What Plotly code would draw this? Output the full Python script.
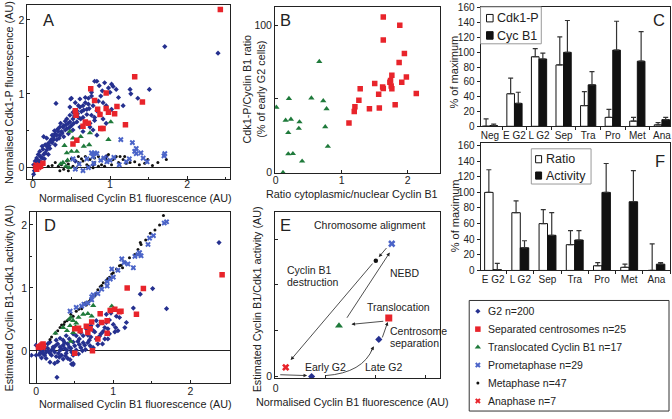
import plotly.graph_objects as go

W, H = 672, 419
def fx(p): return p / W
def fy(p): return 1 - p / H

FONT = "Liberation Sans, Arial, sans-serif"

# ---------------- DATA ----------------
# Panel A: Normalised Cyclin B1 (x) vs Normalised Cdk1-P (y)
a_g2 = [(0.80,1.17),(0.93,1.15),(1.04,1.10),(1.08,1.06),(0.98,1.08),(0.86,1.11),(1.00,1.02),(0.90,1.04),
        (0.76,0.97),(0.72,0.94),(0.68,0.88),(0.61,0.82),(0.50,0.94),(0.30,0.87),(0.76,1.02),(1.11,0.95),
        (1.17,0.84),(0.78,0.84),(0.70,0.79),(0.63,0.76),(0.57,0.77),(0.65,0.68),(0.59,0.68),(0.52,0.66),
        (0.48,0.71),(0.44,0.66),(0.46,0.60),(0.40,0.57),(0.35,0.55),(0.42,0.51),(0.33,0.49),(0.29,0.46),
        (0.25,0.44),(0.35,0.44),(0.18,0.40),(0.27,0.38),(0.14,0.42),(0.20,0.33),(0.16,0.31),(0.12,0.29),
        (0.22,0.26),(0.09,0.22),(0.16,0.20),(0.07,0.18),(0.05,0.13),(0.03,0.09),(0.09,0.09),(0.01,0.04),
        (0.02,-0.04),(0.48,0.82),(0.55,0.88),(0.61,0.93),(0.68,0.95),(0.72,0.86),(0.83,0.77),(0.87,0.73),
        (0.91,0.66),(0.80,0.64),(0.74,0.60),(0.61,0.55),(0.52,0.51),(0.46,0.46),(0.40,0.42),(0.31,0.38),
        (0.25,0.34),(0.29,0.31),(0.18,0.24),(0.14,0.18),(0.20,0.18),(0.12,0.13),(0.07,0.07),(0.57,0.62),
        (0.50,0.57),(0.44,0.53),(0.37,0.49),(0.31,0.44),(0.52,0.75),(0.59,0.84),(0.65,0.84),(0.95,0.84),
        (1.02,0.79),(0.91,0.88),(0.74,0.55),(0.78,0.51),(0.83,0.44),(0.65,0.49),(0.95,0.60),(0.76,0.71),
        (0.80,0.68),(0.55,0.09),(0.78,0.04),(0.95,0.15),(0.01,-0.09),(1.71,1.64),(2.40,1.55),(1.51,1.06),
        (1.36,0.94),(1.26,1.06),(1.27,1.00),(1.02,1.13),(0.83,1.17),(0.49,0.93),(0.10,0.15),(0.13,0.25),
        (0.21,0.30),(0.24,0.38),(0.27,0.42),(0.32,0.52),(0.38,0.47),(0.36,0.60),(0.43,0.58),(0.48,0.62),
        (0.54,0.70),(0.06,0.10),(0.04,0.02),(0.11,0.05),(0.15,0.12),(0.19,0.28),(0.23,0.36),(0.28,0.50),
        (0.34,0.40),(0.39,0.55),(0.42,0.63),(0.47,0.54),(0.53,0.60),(0.58,0.73),(0.62,0.66),(0.66,0.78),
        (0.70,0.72),(0.73,0.80),(0.85,0.90),(0.88,0.97)]
a_sep = [(2.43,2.14),(1.32,1.23),(0.75,1.07),(0.95,1.01),(0.80,0.91),(1.42,0.89),(1.09,0.83),(0.95,0.80),
         (0.84,0.79),(1.06,0.73),(0.87,0.72),(0.55,0.77),(0.56,0.71),(0.65,0.56),(0.88,0.53),(0.91,0.53),
         (1.20,0.58),(0.57,0.37),(0.52,0.32),(0.13,0.06),(0.10,0.02),(0.05,-0.02),(0.68,0.62),(0.72,0.60),
         (0.98,0.75)]
a_trans = [(1.01,0.62),(0.74,0.47),(0.62,0.42),(0.48,0.49),(0.98,0.38),(0.73,0.31),(0.41,0.30),(0.57,0.22),
           (0.44,0.20),(0.50,0.22),(0.39,0.07),(0.43,0.02),(0.47,0.00),(0.52,0.40),(0.66,0.29),(0.36,0.05),
           (0.45,0.10)]
a_prometa = [(1.14,0.38),(1.29,0.34),(1.34,0.26),(1.32,0.22),(1.34,0.19),(1.71,0.19),(1.70,0.16),(1.43,0.13),
             (0.80,0.20),(0.76,0.20),(1.00,0.10),(0.96,0.08),(0.70,0.12),(0.79,0.06),(0.55,-0.02),(0.65,-0.04),
             (1.21,0.08),(0.92,0.13),(0.83,0.19),(0.78,0.15),(0.52,0.12),(0.60,0.05),(1.12,0.04),(1.48,0.08),
             (0.88,0.10),(1.05,0.14),(0.72,0.00),(1.25,0.12),(1.40,0.20)]
a_meta = [(0.20,0.02),(0.25,0.03),(0.37,0.04),(0.46,0.05),(0.52,0.02),(0.59,0.07),(0.65,0.09),(0.70,0.04),
          (0.74,0.11),(0.80,0.07),(0.85,0.15),(0.89,0.04),(0.91,0.13),(0.95,0.11),(0.98,0.18),(1.02,0.04),
          (1.08,0.15),(1.11,0.07),(1.17,0.11),(1.21,0.06),(1.26,0.07),(1.32,0.08),(1.45,0.06),(1.49,0.11),
          (1.62,0.07),(1.73,0.11),(0.72,0.02),(0.40,-0.02),(0.33,0.02),(0.29,0.07),(0.57,0.00),(0.63,0.12),
          (0.50,0.12),(0.78,0.00),(0.93,0.02),(1.04,0.11),(1.13,0.15),(0.80,0.13),(0.68,0.15),(0.46,-0.04),
          (1.19,0.15),(1.38,0.04),(0.59,0.15),(0.44,0.09),(0.85,0.02),(0.35,-0.04),(1.55,0.03)]
a_ana = [(0.03,0.01),(0.05,-0.01),(0.06,0.03),(0.04,0.04),(0.08,0.00),(0.07,0.02),(0.09,0.03)]

# Panel B: ratio cytoplasmic/nuclear Cyclin B1 (x) vs Cdk1-P/Cyclin B1 ratio % (y)
b_trans = [(0.01,44.3),(0.15,35.4),(0.23,36.1),(0.19,27.0),(0.36,34.3),(0.35,29.9),(0.20,50.2),(0.54,50.5),
           (0.66,75.3),(0.72,48.7),(0.77,43.2),(0.75,31.0),(0.79,17.7),(0.19,12.6),(0.26,12.8),(0.40,7.7),
           (0.11,0.0)]
b_sep = [(1.63,105.6),(1.88,100.0),(1.63,90.0),(1.95,80.8),(1.87,74.6),(1.76,66.0),(1.98,64.9),(1.50,60.4),
         (1.91,61.3),(1.73,61.3),(1.63,57.1),(1.75,58.7),(1.76,56.9),(1.28,56.9),(1.56,53.1),(2.13,53.6),
         (1.26,49.1),(1.20,44.7),(1.19,41.4),(1.42,43.2),(1.57,43.8),(1.81,46.0),(1.11,33.6),(1.74,62.5),
         (1.62,58.0)]

# Panel C: % of maximum (value, top of error bar)
c_cats = ["Neg", "E G2", "L G2", "Sep", "Tra", "Pro", "Met", "Ana"]
c_cdk1p = [0, 44, 94, 83, 28, 12, 7, 2]
c_cdk1p_err_top = [10, 65, 105, 121, 47, 23, 12, 5]
c_cycb1 = [1, 31, 91, 100, 56, 103, 88, 9]
c_cycb1_err_top = [3, 46, 99, 143, 74, 142, 128, 12]

# Panel D: Normalised Cyclin B1 (x) vs estimated Cyclin B1-Cdk1 activity (y)
d_g2 = [(2.37,1.72),(1.69,0.67),(1.51,0.99),(1.35,0.90),(1.26,0.68),(0.27,-0.42),(0.46,-0.21),(-0.06,-0.07),
        (1.15,0.37),(1.17,0.45),(0.91,0.58),(1.04,0.55),(0.95,0.49),(1.03,0.37),(0.89,0.37),(0.78,0.48),
        (0.74,0.32),(0.67,0.25),(0.78,0.19),(0.61,0.24),(0.56,0.19),(0.52,0.24),(0.69,0.17),(0.80,0.11),
        (0.86,0.11),(0.93,0.19),(0.63,0.09),(0.48,0.14),(0.41,0.11),(0.35,0.09),(0.28,0.11),(0.22,0.06),
        (0.15,0.04),(0.09,0.01),(0.05,-0.04),(0.00,-0.07),(0.11,-0.07),(0.18,-0.04),(0.24,-0.02),(0.31,0.01),
        (0.37,0.04),(0.43,0.06),(0.50,0.08),(0.56,0.10),(0.52,0.01),(0.46,-0.02),(0.39,-0.04),(0.33,-0.07),
        (0.26,-0.09),(0.20,-0.07),(0.13,-0.12),(0.07,-0.11),(0.03,0.03),(0.18,0.14),(0.26,0.17),(0.35,0.17),
        (0.43,0.19),(0.48,-0.07),(0.24,-0.20),(0.18,-0.18),(0.48,-0.20),(0.41,-0.12),(0.35,-0.13),(0.28,-0.17),
        (0.00,0.09),(0.09,0.09),(0.15,0.11),(0.20,0.01),(0.31,0.06),(0.37,0.13),(0.54,0.15),(0.61,0.13),
        (0.67,0.13),(0.71,0.22),(0.84,0.27),(0.89,0.19),(0.95,0.27),(1.02,0.30),(1.06,0.32),(1.08,0.53),
        (0.91,0.45),(0.84,0.45),(0.80,0.40),(0.97,0.60),(0.58,0.29),(0.65,0.35),(0.71,0.40),(0.48,0.27),
        (0.39,0.24),(0.31,0.20),(0.07,-0.02),(0.13,-0.02),(0.48,-0.22),(0.04,-0.06),(0.10,-0.05),(0.16,0.00),
        (0.22,0.03),(0.29,-0.04),(0.33,0.03),(0.40,0.01),(0.45,0.04),(0.58,0.05),(0.64,0.02),(0.70,0.08),
        (0.12,0.05),(0.06,0.05),(0.25,0.08),(0.30,-0.10),(0.38,-0.08),(0.44,-0.14),(0.55,-0.05),(0.60,0.00),
        (0.74,0.05),(0.82,0.23),(0.76,0.30),(1.00,0.42),(0.93,0.35),(0.87,0.31)]
d_sep = [(2.41,1.21),(1.18,1.00),(1.39,0.99),(1.30,0.58),(0.83,0.59),(0.96,0.64),(1.02,0.66),(1.08,0.62),
         (0.85,0.45),(0.92,0.48),(0.72,0.46),(0.65,0.39),(0.57,0.32),(0.50,0.35),(0.92,0.28),(0.80,0.19),
         (0.73,0.00),(0.50,-0.04),(0.03,0.06),(0.09,0.11),(0.06,0.06),(0.67,0.29),(0.55,0.36),(1.10,0.63),
         (0.70,0.35)]
d_trans = [(0.98,0.71),(0.67,0.59),(0.72,0.55),(0.55,0.53),(0.45,0.53),(0.48,0.48),(0.44,0.40),(0.51,0.38),
           (0.40,0.32),(0.48,0.29),(0.45,0.15),(0.25,0.28),(0.61,0.58),(0.52,0.44),(0.74,0.72),(0.35,0.37),
           (0.43,0.50)]
d_prometa = [(1.69,2.05),(1.66,2.03),(1.47,1.79),(1.45,1.69),(1.32,1.53),(1.26,1.32),(1.11,1.46),(0.98,1.30),
             (0.92,1.10),(0.92,1.03),(0.80,0.91),(0.72,0.86),(0.67,0.76),(0.59,0.71),(0.52,0.69),(0.44,0.63),
             (1.00,1.17),(1.34,1.56),(1.36,1.51),(0.74,0.89),(1.06,1.28),(1.19,1.38),(0.72,0.81),(0.85,0.98),
             (1.52,1.83),(0.62,0.74),(1.14,1.40),(0.96,1.14),(1.28,1.50)]
d_meta = [(1.65,2.15),(1.60,2.00),(1.48,1.87),(1.35,1.72),(1.32,1.61),(1.28,1.53),(1.04,1.30),(0.95,1.17),
          (0.91,1.12),(0.85,1.04),(0.80,0.97),(0.76,0.87),(0.71,0.81),(0.65,0.73),(0.59,0.67),(0.55,0.66),
          (0.48,0.55),(0.37,0.46),(0.33,0.41),(0.25,0.28),(0.18,0.18),(1.08,1.35),(0.98,1.22),(0.87,1.08),
          (0.63,0.76),(0.42,0.50),(0.36,0.42),(1.36,1.69),(1.54,1.92),(0.78,0.91),(0.70,0.80),(0.52,0.63),
          (0.45,0.58),(0.31,0.37),(0.20,0.22),(1.15,1.41),(1.21,1.48),(0.93,1.15),(0.83,1.02),(0.59,0.71),
          (1.00,1.24),(1.10,1.36),(0.68,0.78),(0.40,0.48),(0.28,0.32),(1.42,1.76),(1.12,1.32)]
d_ana = [(0.05,0.08),(0.08,0.07),(0.04,0.05),(0.07,0.10),(0.10,0.08),(0.06,0.06),(0.09,0.05)]

# Panel E: schematic, one representative point per stage (arbitrary units)
e_stage = ["ana", "g2_early", "g2_late", "sep", "trans", "meta", "prometa"]
e_x = [0.20, 0.72, 2.07, 2.27, 1.27, 2.01, 2.33]
e_y = [0.20, 0.00, 0.81, 1.28, 1.11, 2.53, 2.90]

# Panel F: % of maximum (value, top of error bar)
f_cats = ["E G2", "L G2", "Sep", "Tra", "Pro", "Met", "Ana"]
f_ratio = [100, 74, 60, 33, 6, 4, 0]
f_ratio_err_top = [129, 89, 78, 51, 10, 8, 34]
f_activity = [1, 29, 45, 39, 100, 88, 8]
f_activity_err_top = [9, 38, 74, 51, 137, 128, 10]

legend_labels = ["G2 n=200", "Separated centrosomes n=25", "Translocated Cyclin B1 n=17",
                 "Prometaphase n=29", "Metaphase n=47", "Anaphase n=7"]

# ---------------- STYLES ----------------
C_G2 = "#25308f"
C_RED = "#e8242b"
C_GREEN = "#1f7a3b"
C_XBLUE = "#4b64c8"
C_BLACK = "#111111"

STY = {
    "g2": dict(symbol="diamond", size=4, color=C_G2),
    "sep": dict(symbol="square", size=5.5, color=C_RED),
    "trans": dict(symbol="triangle-up", size=5.5, color=C_GREEN),
    "prometa": dict(symbol="x", size=5, color=C_XBLUE),
    "meta": dict(symbol="circle", size=3, color=C_BLACK),
    "ana": dict(symbol="x", size=5, color=C_RED),
}

fig = go.Figure()

def sc(pairs, key, xa, ya):
    xs = [p[0] for p in pairs]
    ys = [p[1] for p in pairs]
    fig.add_trace(go.Scatter(x=xs, y=ys, mode="markers", xaxis=xa, yaxis=ya,
                             marker=dict(line=dict(width=0), **STY[key]),
                             showlegend=False, hoverinfo="skip"))

# Panel A
sc(a_g2, "g2", "x", "y")
sc(a_meta, "meta", "x", "y")
sc(a_prometa, "prometa", "x", "y")
sc(a_ana, "ana", "x", "y")
sc(a_trans, "trans", "x", "y")
sc(a_sep, "sep", "x", "y")
# Panel B
sc(b_trans, "trans", "x2", "y2")
sc(b_sep, "sep", "x2", "y2")
# Panel D
sc(d_g2, "g2", "x4", "y4")
sc(d_meta, "meta", "x4", "y4")
sc(d_prometa, "prometa", "x4", "y4")
sc(d_ana, "ana", "x4", "y4")
sc(d_trans, "trans", "x4", "y4")
sc(d_sep, "sep", "x4", "y4")
# Panel E
for k, xv, yv in zip(e_stage, e_x, e_y):
    key = {"g2_early": "g2", "g2_late": "g2"}.get(k, k)
    st = dict(STY[key])
    st["size"] = st["size"] + 1.5
    fig.add_trace(go.Scatter(x=[xv], y=[yv], mode="markers", xaxis="x5", yaxis="y5",
                             marker=dict(line=dict(width=0), **st), showlegend=False, hoverinfo="skip"))

# Bars C and F
def errbar(vals, tops):
    return dict(type="data", symmetric=False, array=[t - v for v, t in zip(vals, tops)],
                arrayminus=[0] * len(vals), color="#333333", thickness=1.2, width=2.5)

fig.add_trace(go.Bar(x=c_cats, y=c_cdk1p, xaxis="x3", yaxis="y3", name="Cdk1-P",
                     marker=dict(color="white", line=dict(color="#111", width=1)),
                     error_y=errbar(c_cdk1p, c_cdk1p_err_top), showlegend=False, hoverinfo="skip"))
fig.add_trace(go.Bar(x=c_cats, y=c_cycb1, xaxis="x3", yaxis="y3", name="Cyc B1",
                     marker=dict(color="#111", line=dict(color="#111", width=1)),
                     error_y=errbar(c_cycb1, c_cycb1_err_top), showlegend=False, hoverinfo="skip"))
fig.add_trace(go.Bar(x=f_cats, y=f_ratio, xaxis="x6", yaxis="y6", name="Ratio",
                     marker=dict(color="white", line=dict(color="#111", width=1)),
                     error_y=errbar(f_ratio, f_ratio_err_top), showlegend=False, hoverinfo="skip"))
fig.add_trace(go.Bar(x=f_cats, y=f_activity, xaxis="x6", yaxis="y6", name="Activity",
                     marker=dict(color="#111", line=dict(color="#111", width=1)),
                     error_y=errbar(f_activity, f_activity_err_top), showlegend=False, hoverinfo="skip"))

# Legend glyphs (helper axes in pixel coordinates)
leg_keys = ["g2", "sep", "trans", "prometa", "meta", "ana"]
leg_y = [315, 333.3, 351.7, 370, 388.3, 406.7]
for k, yy in zip(leg_keys, leg_y):
    fig.add_trace(go.Scatter(x=[478], y=[yy], mode="markers", xaxis="x7", yaxis="y7",
                             marker=dict(line=dict(width=0), **STY[k]), showlegend=False, hoverinfo="skip"))

# ---------------- AXES ----------------
ax_common = dict(showline=True, mirror=True, linecolor="#222", linewidth=1, ticks="inside",
                 ticklen=3, tickcolor="#222", showgrid=False, zeroline=False,
                 tickfont=dict(family=FONT, size=10.5, color="#222"))
MINOR = dict(ticks="inside", dtick=0.5, ticklen=2, tickcolor="#222")

def dom_x(a, b): return [fx(a), fx(b)]
def dom_y(top, bot): return [fy(bot), fy(top)]

lay = dict(
    width=W, height=H, margin=dict(l=0, r=0, t=0, b=0),
    paper_bgcolor="white", plot_bgcolor="rgba(0,0,0,0)", showlegend=False,
    barmode="group", bargap=0.38, bargroupgap=0.0,
    font=dict(family=FONT, size=11, color="#222"),
)
# A
lay["xaxis"] = dict(ax_common, domain=dom_x(25.5, 229), range=[-0.071, 2.555], tickvals=[0, 1, 2],
                    anchor="y", minor=MINOR, ticklabelstandoff=-5)
lay["yaxis"] = dict(ax_common, domain=dom_y(2, 180), range=[-0.155, 2.203], tickvals=[0, 1, 2], anchor="x",
                    zeroline=True, zerolinecolor="#222", zerolinewidth=1, minor=MINOR)
# B
lay["xaxis2"] = dict(ax_common, domain=dom_x(274.3, 440), range=[-0.01, 2.49], tickvals=[0, 1, 2], anchor="y2",
                     ticklabelstandoff=-3)
lay["yaxis2"] = dict(ax_common, domain=dom_y(4, 174), range=[-0.5, 112.4], tickvals=[0, 50, 100],
                     ticktext=["0", "", "100"], anchor="x2")
# D
lay["xaxis4"] = dict(ax_common, domain=dom_x(28.3, 229), range=[-0.077, 2.512], tickvals=[0, 1, 2], anchor="y4",
                     zeroline=True, zerolinecolor="#222", zerolinewidth=1, minor=MINOR, ticklabelstandoff=-2)
lay["yaxis4"] = dict(ax_common, domain=dom_y(213.3, 388.3), range=[-0.51, 2.21], tickvals=[0, 1, 2], anchor="x4",
                     zeroline=True, zerolinecolor="#222", zerolinewidth=1, minor=MINOR)
# E
lay["xaxis5"] = dict(ax_common, domain=dom_x(274.3, 440), range=[-0.014, 3.3], tickvals=[0, 1, 2, 3],
                     ticktext=["0", "", "", ""], anchor="y5")
lay["yaxis5"] = dict(ax_common, domain=dom_y(213.3, 383.3), range=[-0.034, 3.6], tickvals=[0, 1, 2, 3],
                     ticktext=["0", "", "", ""], anchor="x5")
# C and F
bar_x = dict(showline=True, mirror=True, linecolor="#222", linewidth=1, ticks="outside", ticklen=3,
             tickcolor="#222", tickson="boundaries", showgrid=False, zeroline=False, type="category",
             tickangle=0, tickfont=dict(family=FONT, size=10, color="#222"))
bar_y = dict(showline=True, mirror=True, linecolor="#222", linewidth=1, ticks="outside", ticklen=3,
             tickcolor="#222", showgrid=False, zeroline=False, dtick=20, tick0=0,
             tickfont=dict(family=FONT, size=10, color="#222"))
lay["xaxis3"] = dict(bar_x, domain=dom_x(480.7, 671), range=[-0.38, 7.33], anchor="y3")
lay["yaxis3"] = dict(bar_y, domain=dom_y(4, 126), range=[0, 161.4], anchor="x3")
lay["xaxis6"] = dict(bar_x, domain=dom_x(480.7, 671), range=[-0.46, 6.50], anchor="y6")
lay["yaxis6"] = dict(bar_y, domain=dom_y(143.3, 273.3), range=[0, 163], anchor="x6")
# helper pixel axes for legend glyphs
lay["xaxis7"] = dict(domain=[0, 1], range=[0, W], visible=False, anchor="y7", fixedrange=True)
lay["yaxis7"] = dict(domain=[0, 1], range=[H, 0], visible=False, anchor="x7", fixedrange=True)

fig.update_layout(**lay)

# ---------------- TEXT ----------------
ann = []
def txt(x, y, s, size=11, angle=0, xanchor="center", yanchor="middle", align="center"):
    ann.append(dict(x=fx(x), y=fy(y), xref="paper", yref="paper", text=s, showarrow=False,
                    textangle=angle, xanchor=xanchor, yanchor=yanchor, align=align,
                    font=dict(family=FONT, size=size, color="#222")))

# panel letters
LS = 16.5
txt(47, 17.5, "A", LS); txt(285, 17.5, "B", LS); txt(660, 17.5, "C", LS)
txt(48, 227, "D", LS); txt(285, 227, "E", LS); txt(661, 161, "F", LS)
# axis titles
txt(134, 199.5, "Normalised Cyclin B1 fluorescence (AU)", 10.8)
txt(7, 91, "Normalised Cdk1-P fluorescence (AU)", 10.8, -90)
txt(352, 195, "Ratio cytoplasmic/nuclear Cyclin B1", 10.8)
txt(253.5, 88, "Cdk1-P/Cyclin B1 ratio<br>(% of early G2 cells)", 10.8, -90)
txt(134, 409.5, "Normalised Cyclin B1 fluorescence (AU)", 10.8)
txt(7, 301, "Estimated Cyclin B1-Cdk1 activity (AU)", 10.8, -90)
txt(352, 408, "Normalised Cyclin B1 fluorescence (AU)", 10.8)
txt(257, 303, "Estimated Cyclin B1/Cdk1 activity (AU)", 10.8, -90)
txt(455, 70, "% of maximum", 11, -90)
txt(455, 217, "% of maximum", 11, -90)
# panel E labels
txt(370, 227, "Chromosome alignment", 10.5)
txt(284, 273, "Cyclin B1", 10.5, xanchor="left")
txt(284, 285, "destruction", 10.5, xanchor="left")
txt(388, 276, "NEBD", 10.5, xanchor="left")
txt(365, 311, "Translocation", 10.5, xanchor="left")
txt(388, 335, "Centrosome", 10.5, xanchor="left")
txt(388, 347, "separation", 10.5, xanchor="left")
txt(302, 372, "Early G2", 10.5, xanchor="left")
txt(363, 372, "Late G2", 10.5, xanchor="left")
# bar legends
txt(495, 15.7, "Cdk1-P", 12.5, xanchor="left"); txt(495, 33.3, "Cyc B1", 12.5, xanchor="left")
txt(544.5, 159.3, "Ratio", 12.5, xanchor="left"); txt(544.5, 176.7, "Activity", 12.5, xanchor="left")
# scatter legend
for lab, yy in zip(legend_labels, leg_y):
    txt(486.5, yy, lab, 10.5, xanchor="left")

# arrows in E (data coords of x5/y5)
def arrow(x0, y0, x1, y1):
    ann.append(dict(x=x1, y=y1, ax=x0, ay=y0, xref="x5", yref="y5", axref="x5", ayref="y5",
                    showarrow=True, arrowhead=2, arrowsize=0.9, arrowwidth=0.8,
                    arrowcolor="#222", text="", standoff=0, startstandoff=0))
arrow(0.06, 0.04, 0.63, 0.02)
arrow(1.90, 0.52, 1.97, 0.66)
arrow(2.13, 0.82, 2.25, 1.19)
arrow(2.19, 1.21, 1.52, 1.14)
arrow(1.41, 1.25, 2.29, 2.71)
arrow(2.25, 2.84, 2.07, 2.61)
arrow(1.97, 2.50, 0.30, 0.36)

fig.update_layout(annotations=ann)

# ---------------- SHAPES ----------------
shapes = []
def rect(x0, y0, x1, y1, fill="rgba(0,0,0,0)", lw=1, col="#333"):
    shapes.append(dict(type="rect", xref="paper", yref="paper", x0=fx(x0), x1=fx(x1), y0=fy(y1), y1=fy(y0),
                       line=dict(color=col, width=lw), fillcolor=fill, layer="above"))
# legend boxes
rect(480.7, 4, 541.7, 41.7, lw=1, col="#999")
rect(531.7, 149, 591.7, 185, lw=1, col="#999")
rect(469.3, 304, 670, 417, lw=1, col="#333")
# legend swatches
rect(486.7, 11.7, 493.3, 19.3, fill="white", lw=1, col="#111")
rect(486.7, 29.3, 493.3, 37, fill="#111", lw=1, col="#111")
rect(536, 156, 542, 163.3, fill="white", lw=1, col="#111")
rect(536, 172.7, 542, 180, fill="#111", lw=1, col="#111")
# curved arrow in E (early G2 -> late G2)
shapes.append(dict(type="path", xref="x5", yref="y5", path="M 1.0,0.02 Q 1.75,0.08 1.95,0.62",
                   line=dict(color="#222", width=0.8)))
fig.update_layout(shapes=shapes)

fig.write_html("out.html", config={"displayModeBar": False},
               post_script="document.body.style.margin='0';document.body.style.overflow='hidden';")
